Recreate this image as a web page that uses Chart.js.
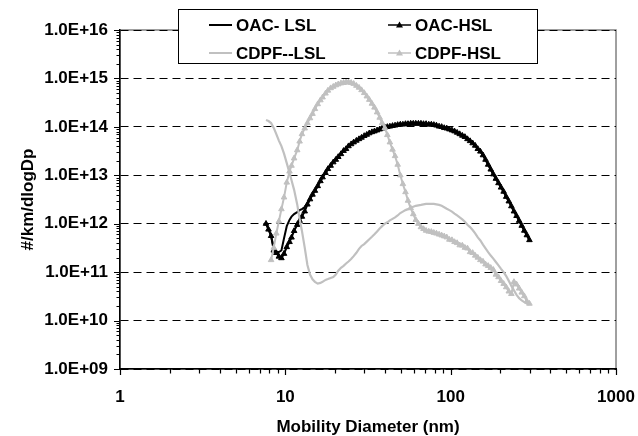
<!DOCTYPE html>
<html>
<head>
<meta charset="utf-8">
<script src="https://cdn.jsdelivr.net/npm/chart.js@4.4.1/dist/chart.umd.min.js"></script>
<style>
  body { margin: 0; background: #fff; }
  canvas { display: block; }
</style>
</head>
<body>
<canvas id="psd" width="638" height="436"></canvas>
<script>
// SMPS mobility diameters (nm), 64 channels/decade
const diameters = [7.64, 7.91, 8.20, 8.51, 8.82, 9.14, 9.47, 9.82, 10.2, 10.6, 10.9, 11.3, 11.8, 12.2,
    12.6, 13.1, 13.6, 14.1, 14.6, 15.1, 15.7, 16.3, 16.8, 17.5, 18.1, 18.8, 19.5, 20.2, 20.9, 21.7,
    22.5, 23.3, 24.1, 25.0, 25.9, 26.9, 27.9, 28.9, 30.0, 31.1, 32.2, 33.4, 34.6, 35.9, 37.2, 38.5,
    40.0, 41.4, 42.9, 44.5, 46.1, 47.8, 49.6, 51.4, 53.3, 55.2, 57.3, 59.4, 61.5, 63.8, 66.1, 68.5,
    71.0, 73.7, 76.4, 79.1, 82.0, 85.1, 88.2, 91.4, 94.7, 98.2, 101.8, 105.5, 109.4, 113.4, 117.6,
    121.9, 126.3, 131.0, 135.8, 140.7, 145.9, 151.2, 156.8, 162.5, 168.5, 174.7, 181.1, 187.7, 194.6,
    201.7, 209.1, 216.7, 224.7, 232.9, 241.4, 250.3, 259.5, 269.0, 278.8, 289.0, 299.6];

// #/km/dlogDp per channel
const oacLsl = [1.0e12, 7.9e11, 5.6e11, 3.2e11, 2.6e11, 2.6e11, 2.8e11, 5.0e11, 8.9e11, 1.2e12,
    1.4e12, 1.58e12, 1.74e12, 1.9e12, 2.0e12, 2.2e12, 2.6e12, 3.2e12, 4.0e12, 4.8e12,
    6.0e12, 7.6e12, 9.1e12, 1.12e13, 1.35e13, 1.58e13, 1.86e13, 2.1e13, 2.4e13, 2.75e13,
    3.2e13, 3.5e13, 4.0e13, 4.4e13, 4.8e13, 5.2e13, 5.6e13, 6.0e13, 6.5e13, 6.9e13,
    7.4e13, 7.8e13, 8.1e13, 8.5e13, 8.9e13, 9.3e13, 9.8e13, 1.0e14, 1.02e14, 1.05e14,
    1.07e14, 1.1e14, 1.12e14, 1.12e14, 1.15e14, 1.15e14, 1.17e14, 1.17e14, 1.17e14, 1.17e14,
    1.17e14, 1.15e14, 1.15e14, 1.12e14, 1.12e14, 1.1e14, 1.07e14, 1.02e14, 1.0e14, 9.5e13,
    9.3e13, 8.9e13, 8.5e13, 8.1e13, 7.6e13, 7.1e13, 6.6e13, 6.2e13, 5.6e13, 5.1e13,
    4.6e13, 4.1e13, 3.5e13, 3.1e13, 2.6e13, 2.1e13, 1.66e13, 1.32e13, 1.05e13, 8.5e12,
    6.9e12, 5.6e12, 4.6e12, 3.6e12, 2.9e12, 2.3e12, 1.8e12, 1.45e12, 1.15e12, 9.1e11,
    7.2e11, 5.8e11, 4.6e11];
const oacHsl = [1.0e12, 7.6e11, 5.6e11, 2.8e11, 2.5e11, 2.1e11, 1.95e11, 2.4e11, 3.3e11, 4.2e11,
    5.2e11, 7.1e11, 9.5e11, 1.15e12, 1.4e12, 1.8e12, 2.5e12, 3.2e12, 4.0e12, 4.8e12,
    6.0e12, 7.6e12, 9.1e12, 1.12e13, 1.35e13, 1.58e13, 1.86e13, 2.1e13, 2.4e13, 2.75e13,
    3.2e13, 3.5e13, 4.0e13, 4.4e13, 4.8e13, 5.2e13, 5.6e13, 6.0e13, 6.5e13, 6.9e13,
    7.4e13, 7.8e13, 8.1e13, 8.5e13, 8.9e13, 9.3e13, 9.8e13, 1.0e14, 1.02e14, 1.05e14,
    1.07e14, 1.1e14, 1.12e14, 1.12e14, 1.15e14, 1.15e14, 1.17e14, 1.17e14, 1.17e14, 1.17e14,
    1.17e14, 1.15e14, 1.15e14, 1.12e14, 1.12e14, 1.1e14, 1.07e14, 1.02e14, 1.0e14, 9.5e13,
    9.3e13, 8.9e13, 8.5e13, 8.1e13, 7.6e13, 7.1e13, 6.6e13, 6.2e13, 5.6e13, 5.1e13,
    4.6e13, 4.1e13, 3.5e13, 3.1e13, 2.6e13, 2.1e13, 1.66e13, 1.32e13, 1.05e13, 8.5e12,
    6.9e12, 5.6e12, 4.6e12, 3.6e12, 2.9e12, 2.3e12, 1.8e12, 1.45e12, 1.15e12, 9.1e11,
    7.2e11, 5.8e11, 4.6e11];
const cdpfLsl = [1.38e14, 1.32e14, 1.2e14, 9.5e13, 7.1e13, 5.2e13, 4.0e13, 2.8e13, 1.78e13, 1.12e13,
    7.9e12, 5.0e12, 2.5e12, 1.26e12, 7.1e11, 3.2e11, 1.41e11, 8.9e10, 7.1e10, 6.3e10,
    5.8e10, 6.0e10, 6.3e10, 6.9e10, 7.2e10, 7.6e10, 7.9e10, 8.9e10, 1.07e11, 1.23e11,
    1.35e11, 1.51e11, 1.66e11, 1.86e11, 2.14e11, 2.51e11, 3.02e11, 3.47e11, 3.8e11, 4.27e11,
    4.79e11, 5.37e11, 6.03e11, 6.92e11, 7.94e11, 8.91e11, 1.0e12, 1.07e12, 1.17e12, 1.26e12,
    1.35e12, 1.48e12, 1.66e12, 1.78e12, 1.91e12, 2.0e12, 2.14e12, 2.24e12, 2.34e12, 2.4e12,
    2.45e12, 2.51e12, 2.57e12, 2.57e12, 2.57e12, 2.57e12, 2.51e12, 2.45e12, 2.34e12, 2.19e12,
    2.04e12, 1.91e12, 1.78e12, 1.62e12, 1.48e12, 1.35e12, 1.23e12, 1.1e12, 9.5e11, 8.5e11,
    7.4e11, 6.3e11, 5.2e11, 4.5e11, 3.7e11, 3.1e11, 2.6e11, 2.2e11, 1.9e11, 1.62e11,
    1.38e11, 1.17e11, 1.0e11, 8.3e10, 6.6e10, 5.2e10, 4.2e10, 3.4e10, 2.9e10, 2.6e10,
    2.4e10, 2.24e10, 2.14e10];
const cdpfHsl = [null, null, 1.78e11, 3.2e11, 6.3e11, 1.12e12, 2.0e12, 3.5e12, 7.1e12, 1.2e13,
    1.58e13, 2.24e13, 3.3e13, 5.0e13, 7.1e13, 9.3e13, 1.2e14, 1.51e14, 1.86e14, 2.34e14,
    2.95e14, 3.55e14, 4.07e14, 4.9e14, 5.62e14, 6.31e14, 6.76e14, 7.24e14, 7.59e14, 7.94e14,
    8.13e14, 8.32e14, 8.32e14, 8.13e14, 7.76e14, 7.08e14, 6.46e14, 5.75e14, 5.01e14, 4.27e14,
    3.63e14, 3.02e14, 2.51e14, 2.0e14, 1.55e14, 1.2e14, 9.5e13, 6.8e13, 4.8e13, 3.4e13,
    2.5e13, 1.66e13, 1.0e13, 6.6e12, 4.5e12, 3.0e12, 2.1e12, 1.58e12, 1.2e12, 1.0e12,
    8.5e11, 7.8e11, 7.2e11, 6.9e11, 6.8e11, 6.5e11, 6.3e11, 6.0e11, 5.75e11, 5.5e11,
    5.25e11, 4.7e11, 4.6e11, 4.2e11, 4.0e11, 3.6e11, 3.55e11, 3.2e11, 3.1e11, 2.6e11,
    2.5e11, 2.2e11, 2.0e11, 1.78e11, 1.66e11, 1.45e11, 1.35e11, 1.23e11, 1.12e11, 8.9e10,
    7.9e10, 6.6e10, 5.75e10, 4.9e10, 4.0e10, 3.55e10, 6.3e10, 5.6e10, 4.6e10, 3.8e10,
    3.2e10, 2.5e10, 2.24e10];

const seriesNames = ['OAC- LSL', 'OAC-HSL', 'CDPF--LSL', 'CDPF-HSL'];
const xDecades = [0, 1, 2, 3];              // 1 .. 1000 nm
const yDecades = [9, 10, 11, 12, 13, 14, 15, 16];

const GRAY = '#c0c0c0';
const FONT = { family: "'Liberation Sans', Arial, sans-serif", size: 17, weight: 'bold' };
const NONE = 'rgba(0,0,0,0)';

function pts(vals) {
    return diameters.map((d, i) => ({ x: d, y: vals[i] }));
}

function isDecade(v) {
    const e = Math.log10(v);
    return Math.abs(e - Math.round(e)) < 1e-9;
}

// 1..9 x 10^e for each decade, minor ticks included
function decadeTicks(decs) {
    const out = [];
    decs.forEach((e, i) => {
        const lastOne = i === decs.length - 1;
        for (let m = 1; m <= (lastOne ? 1 : 9); m++) {
            out.push({ value: m * Math.pow(10, e), major: m === 1 });
        }
    });
    return out;
}

// gray plot frame underneath, tick marks + boxed legend on top
const framePlugin = {
    id: 'frame',
    beforeDraw(chart) {
        const { ctx, chartArea: a } = chart;
        ctx.save();
        ctx.fillStyle = '#fff';
        ctx.fillRect(0, 0, chart.width, chart.height);
        ctx.strokeStyle = '#808080';
        ctx.lineWidth = 1.5;
        ctx.strokeRect(a.left, a.top, a.right - a.left, a.bottom - a.top);
        ctx.restore();
    },
    afterDraw(chart) {
        const ctx = chart.ctx;
        const a = chart.chartArea;
        const xs = chart.scales.x, ys = chart.scales.y;
        ctx.save();
        ctx.setLineDash([]);
        ctx.strokeStyle = '#000';
        ctx.lineWidth = 1.2;
        ctx.beginPath();
        ys.ticks.forEach(t => {
            const y = Math.round(ys.getPixelForValue(t.value)) + 0.5;
            ctx.moveTo(a.left, y);
            ctx.lineTo(a.left - (isDecade(t.value) ? 6 : 3.5), y);
        });
        xs.ticks.forEach(t => {
            const x = Math.round(xs.getPixelForValue(t.value)) + 0.5;
            ctx.moveTo(x, a.bottom);
            ctx.lineTo(x, a.bottom + (isDecade(t.value) ? 6 : 4.5));
        });
        ctx.stroke();

        ctx.lineWidth = 1;
        ctx.fillStyle = '#fff';
        ctx.fillRect(178.5, 9.5, 359, 54);
        ctx.strokeRect(178.5, 9.5, 359, 54);

        const items = [
            { x: 209, y: 25, color: '#000', marker: false, w: 2 },
            { x: 388, y: 25, color: '#000', marker: true, w: 1.5 },
            { x: 209, y: 53, color: GRAY, marker: false, w: 2 },
            { x: 388, y: 53, color: GRAY, marker: true, w: 1.5 }
        ];
        ctx.font = 'bold 17px "Liberation Sans", Arial, sans-serif';
        ctx.textBaseline = 'middle';
        items.forEach((it, i) => {
            ctx.strokeStyle = it.color;
            ctx.lineWidth = it.w;
            ctx.beginPath();
            ctx.moveTo(it.x, it.y);
            ctx.lineTo(it.x + 23, it.y);
            ctx.stroke();
            if (it.marker) {
                const cx = it.x + 11.5;
                ctx.fillStyle = it.color;
                ctx.beginPath();
                ctx.moveTo(cx, it.y - 3.5);
                ctx.lineTo(cx + 3.5, it.y + 2.5);
                ctx.lineTo(cx - 3.5, it.y + 2.5);
                ctx.closePath();
                ctx.fill();
            }
            ctx.fillStyle = '#000';
            ctx.fillText(seriesNames[i], it.x + 27, it.y + 1);
        });
        ctx.restore();
    }
};

new Chart(document.getElementById('psd'), {
    type: 'line',
    data: {
        datasets: [
            { label: seriesNames[0], data: pts(oacLsl), borderColor: '#000', borderWidth: 2,
              pointRadius: 0, order: 4 },
            { label: seriesNames[1], data: pts(oacHsl), borderColor: '#000', borderWidth: 2,
              pointStyle: 'triangle', pointRadius: 3.2, pointBackgroundColor: '#000',
              pointBorderColor: '#000', pointBorderWidth: 1, order: 3 },
            { label: seriesNames[2], data: pts(cdpfLsl), borderColor: GRAY, borderWidth: 2.2,
              pointRadius: 0, order: 2 },
            { label: seriesNames[3], data: pts(cdpfHsl), borderColor: GRAY, borderWidth: 2,
              pointStyle: 'triangle', pointRadius: 3.2, pointBackgroundColor: GRAY,
              pointBorderColor: GRAY, pointBorderWidth: 1, order: 1 }
        ]
    },
    options: {
        responsive: false,
        animation: false,
        events: [],
        layout: { padding: { top: 30, right: 22, left: 0, bottom: 0 } },
        plugins: { legend: { display: false }, tooltip: { enabled: false } },
        scales: {
            x: {
                type: 'logarithmic',
                min: 1,
                max: 1000,
                afterBuildTicks: (s) => { s.ticks = decadeTicks(xDecades); },
                afterFit: (s) => { s.height = 67; },
                // invisible tick lines only reserve room between axis and labels
                grid: { drawOnChartArea: false, drawTicks: true, tickLength: 18, tickColor: NONE },
                border: { display: true, color: '#000', width: 1.5 },
                ticks: {
                    autoSkip: false, maxRotation: 0, padding: 0, color: '#000', font: FONT,
                    callback: (v) => isDecade(v) ? String(Math.round(v)) : ''
                },
                title: {
                    display: true, text: 'Mobility Diameter (nm)', color: '#000',
                    font: Object.assign({}, FONT, { lineHeight: 1 }), padding: { top: 0, bottom: 0 }
                }
            },
            y: {
                type: 'logarithmic',
                min: 1e9,
                max: 1e16,
                afterBuildTicks: (s) => { s.ticks = decadeTicks(yDecades); },
                afterFit: (s) => { s.width = 120; },
                grid: {
                    drawOnChartArea: true, drawTicks: true, tickLength: 12, tickColor: NONE, lineWidth: 1,
                    color: (c) => (c.tick && isDecade(c.tick.value)) ? '#000' : NONE
                },
                border: { display: true, color: '#000', width: 1.5, dash: [8, 5] },
                ticks: {
                    autoSkip: false, padding: 0, color: '#000', font: FONT,
                    callback: (v) => {
                        if (!isDecade(v)) return '';
                        const e = Math.round(Math.log10(v));
                        return '1.0E+' + (e < 10 ? '0' : '') + e;
                    }
                },
                title: {
                    display: true, text: '#/km/dlogDp', color: '#000',
                    font: FONT, padding: { top: 18, bottom: 0 }
                }
            }
        }
    },
    plugins: [framePlugin]
});
</script>
</body>
</html>
